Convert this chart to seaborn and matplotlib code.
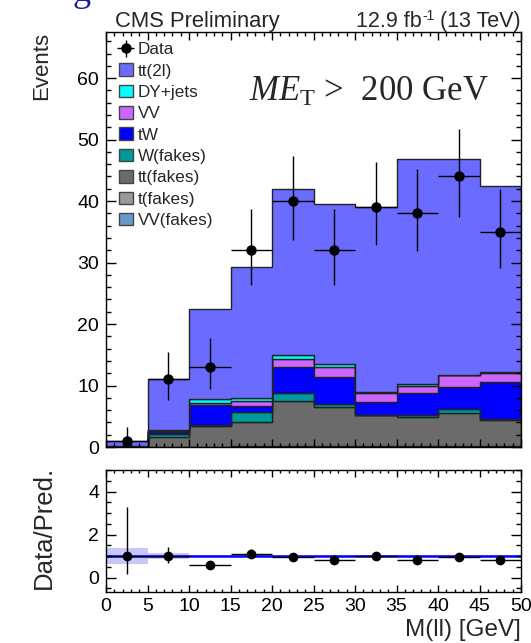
import numpy as np
import pandas as pd
import seaborn as sns
import matplotlib as mpl
import matplotlib.pyplot as plt
from matplotlib.patches import Patch
from matplotlib.ticker import MultipleLocator

# ---- binning -------------------------------------------------------------
edges = [0, 5, 10, 15, 20, 25, 30, 35, 40, 45, 50]
centers = [2.5, 7.5, 12.5, 17.5, 22.5, 27.5, 32.5, 37.5, 42.5, 47.5]

# ---- expected yields per process (events per bin) -------------------------
processes = ["tt(2l)", "DY+jets", "VV", "tW", "W(fakes)", "tt(fakes)", "t(fakes)", "VV(fakes)"]
colors = ["#6b6bff", "#00ffff", "#cc66ff", "#0000ff", "#009999", "#6b6b6b", "#9a9a9a", "#6699cc"]

tt2l      = [0.85, 8.30, 14.54, 21.30, 26.90, 26.10, 30.00, 36.60, 35.20, 30.25]
dy_jets   = [0.00, 0.05, 0.76, 0.38, 0.70, 0.55, 0.27, 0.33, 0.05, 0.05]
vv        = [0.00, 0.28, 0.32, 0.92, 1.24, 1.51, 1.46, 1.24, 1.85, 1.50]
tw        = [0.15, 0.20, 3.28, 0.92, 4.22, 4.40, 2.12, 3.58, 3.57, 6.05]
w_fakes   = [0.00, 0.60, 0.10, 1.57, 1.41, 0.59, 0.00, 0.33, 0.76, 0.16]
tt_fakes  = [0.00, 1.57, 3.40, 4.02, 7.33, 6.35, 5.05, 4.72, 5.37, 4.29]
t_fakes   = [0.00, 0.00, 0.00, 0.10, 0.10, 0.10, 0.10, 0.10, 0.10, 0.10]
vv_fakes  = [0.00, 0.00, 0.00, 0.00, 0.00, 0.00, 0.00, 0.00, 0.00, 0.00]

# ---- observed data ---------------------------------------------------------
data_counts = [1, 11, 13, 32, 40, 32, 39, 38, 44, 35]
data_err_lo = [0.83, 3.3, 3.6, 5.6, 6.3, 5.6, 6.2, 6.1, 6.6, 5.9]
data_err_hi = [2.3, 4.4, 4.7, 6.7, 7.4, 6.7, 7.3, 7.2, 7.7, 7.0]

# relative uncertainty on the total prediction
mc_rel_unc = [0.38, 0.13, 0.06, 0.05, 0.04, 0.04, 0.04, 0.03, 0.03, 0.04]

# ---- style -----------------------------------------------------------------
sns.set_style("ticks")
plt.rcParams["font.family"] = ["Liberation Sans", "DejaVu Sans"]
plt.rcParams["mathtext.fontset"] = "custom"
plt.rcParams["mathtext.default"] = "regular"
plt.rcParams["mathtext.it"] = "Liberation Serif:italic"
plt.rcParams["mathtext.rm"] = "Liberation Serif"
plt.rcParams["axes.linewidth"] = 1.0
plt.rcParams["axes.edgecolor"] = "black"

yields = [tt2l, dy_jets, vv, tw, w_fakes, tt_fakes, t_fakes, vv_fakes]
rows = []
for proc, vals in zip(processes, yields):
    for c, v in zip(centers, vals):
        rows.append({"mll": c, "events": v, "process": proc})
df = pd.DataFrame(rows)

total = np.sum(np.array(yields), axis=0)
data_arr = np.array(data_counts, dtype=float)
ratio = data_arr / total
ratio_lo = np.array(data_err_lo) / total
ratio_hi = np.array(data_err_hi) / total
unc = np.array(mc_rel_unc)

W, H = 531, 643
fig = plt.figure(figsize=(W / 100, H / 100), dpi=100)
ax = fig.add_axes([106 / W, 1 - 447 / H, 415 / W, 415 / H])
ax2 = fig.add_axes([106 / W, 1 - 592 / H, 415 / W, 122 / H])

# ---- stacked prediction ------------------------------------------------------
sns.histplot(
    data=df, x="mll", weights="events", hue="process", hue_order=processes,
    palette=dict(zip(processes, colors)), multiple="stack", bins=edges,
    element="step", alpha=1.0, edgecolor="#222222", linewidth=1.0,
    legend=False, ax=ax,
)

data_handle = ax.errorbar(
    centers, data_counts, yerr=[data_err_lo, data_err_hi], xerr=2.5,
    fmt="o", color="black", ms=6.5, elinewidth=1.0, capsize=0, zorder=5,
)

ax.set_xlim(0, 50)
ax.set_ylim(0, 67.5)
ax.set_axisbelow(False)
ax.xaxis.set_major_locator(MultipleLocator(5))
ax.xaxis.set_minor_locator(MultipleLocator(1))
ax.yaxis.set_major_locator(MultipleLocator(10))
ax.yaxis.set_minor_locator(MultipleLocator(2))
ax.tick_params(which="both", direction="in", top=True, right=True, width=1, colors="black")
ax.tick_params(axis="x", which="major", length=5.5, labelbottom=False)
ax.tick_params(axis="x", which="minor", length=3)
ax.tick_params(axis="y", which="major", length=7, labelsize=14, pad=5)
ax.tick_params(axis="y", which="minor", length=3.5)
ax.set_xlabel("")
ax.set_ylabel("Events", fontsize=16, loc="top")
ax.yaxis.set_label_coords(-0.129, 1.0)

ax.text(0.345, 0.835, r"$\mathit{ME}_{\mathregular{T}}$" + " >  200 GeV", transform=ax.transAxes,
        fontsize=25, family="Liberation Serif", ha="left", va="baseline")

handles = [data_handle] + [Patch(facecolor=c, edgecolor="#444444", lw=1.0) for c in colors]
labels = ["Data"] + processes
fig.legend(handles, labels, loc="upper left", bbox_to_anchor=(119 / W, 1 - 42 / H),
           frameon=False, fontsize=12.3, handlelength=0.8, handleheight=0.75,
           handletextpad=0.3, labelspacing=0.36, borderpad=0, borderaxespad=0)

# ---- header texts -------------------------------------------------------------
fig.text(115 / W, 1 - 27 / H, "CMS Preliminary", fontsize=15.8, ha="left", va="baseline")
base_y = 1 - 27 / H
t_right = fig.text(521 / W, base_y, " (13 TeV)", fontsize=15.5, ha="right", va="baseline")
fig.canvas.draw()
renderer = fig.canvas.get_renderer()
bb = t_right.get_window_extent(renderer)
t_sup = fig.text(bb.x0 / W, base_y + 7 / H, "-1", fontsize=10, ha="right", va="baseline")
bb2 = t_sup.get_window_extent(renderer)
fig.text(bb2.x0 / W, base_y, "12.9 fb", fontsize=15.5, ha="right", va="baseline")

fig.text(72 / W, 1 - 1 / H, "g", fontsize=26, color="#1c1ca0", ha="left", va="baseline",
         family="Liberation Serif")

# ---- ratio panel ------------------------------------------------------------
ax2.bar(centers, 2 * unc, bottom=1 - unc, width=5, color="#c8c8f8", linewidth=0, zorder=1)
ax2.axhline(1.0, color="#0000ff", lw=1.8, zorder=2)
ax2.errorbar(centers, ratio, yerr=[ratio_lo, ratio_hi], xerr=2.5, fmt="o",
             color="black", ms=6, elinewidth=1.0, capsize=0, zorder=4)
ax2.set_xlim(0, 50)
ax2.set_ylim(-0.67, 5.0)
ax2.set_axisbelow(False)
ax2.xaxis.set_major_locator(MultipleLocator(5))
ax2.xaxis.set_minor_locator(MultipleLocator(1))
ax2.yaxis.set_major_locator(MultipleLocator(2))
ax2.yaxis.set_minor_locator(MultipleLocator(0.5))
ax2.tick_params(which="both", direction="in", top=True, right=True, width=1, colors="black")
ax2.tick_params(axis="x", which="major", length=5, labelsize=14, pad=4)
ax2.tick_params(axis="x", which="minor", length=2.5)
ax2.tick_params(axis="y", which="major", length=7, labelsize=14, pad=5)
ax2.tick_params(axis="y", which="minor", length=3.5)
ax2.set_xlabel("M(ll) [GeV]", fontsize=17.5, loc="right")
ax2.xaxis.set_label_coords(1.0, -0.225)
ax2.set_ylabel("Data/Pred.", fontsize=18.5)
ax2.yaxis.set_label_coords(-0.12, 0.53)

fig.savefig("out.png", dpi=100)
